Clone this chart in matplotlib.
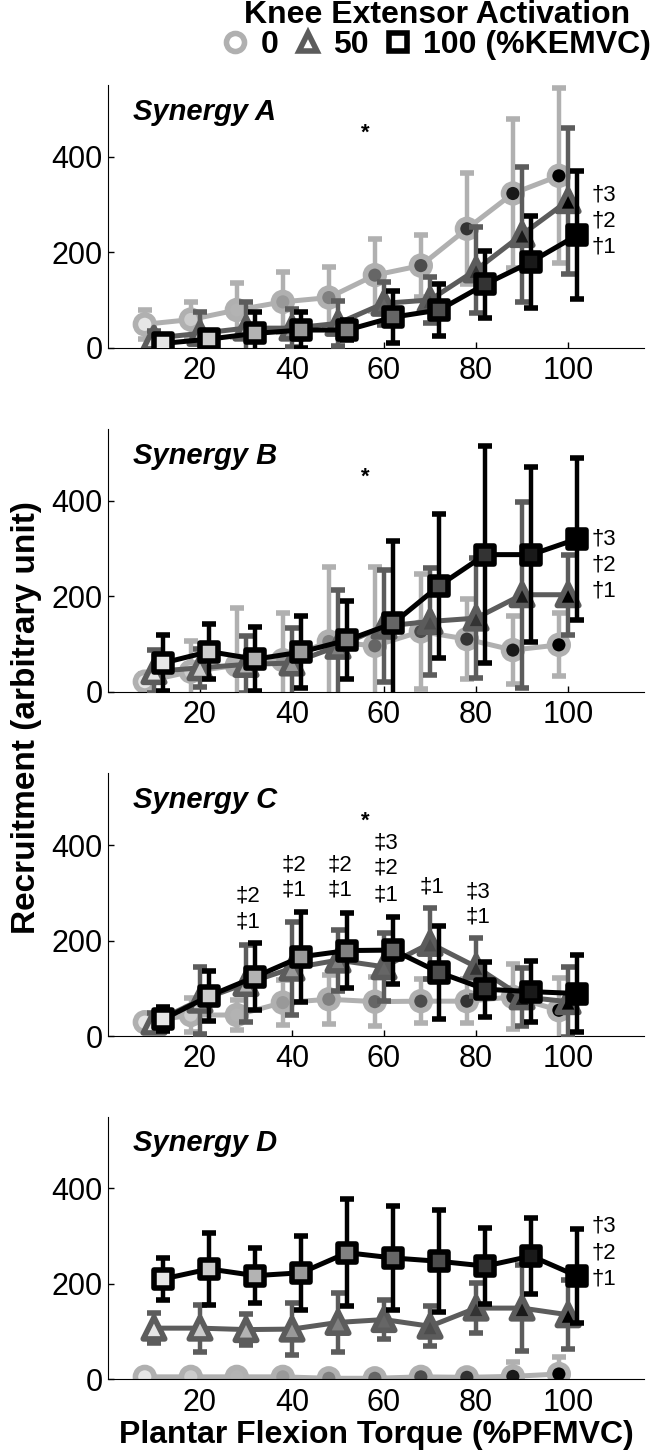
import numpy as np
import matplotlib
matplotlib.use('Agg')
import matplotlib.pyplot as plt
from matplotlib.lines import Line2D

plt.rcParams['font.family'] = ['Liberation Sans', 'DejaVu Sans']

torque = [10, 20, 30, 40, 50, 60, 70, 80, 90, 100]
levels = ['0', '50', '100 (%KEMVC)']

# Synergy A
a_mean_0 = [49, 59, 79, 96, 105, 152, 172, 249, 323, 360]
a_sd_0 = [31, 37, 57, 63, 63, 75, 65, 116, 157, 183]
a_mean_50 = [20, 30, 41, 41, 51, 93, 100, 163, 237, 308]
a_sd_50 = [15, 45, 55, 40, 47, 45, 49, 90, 142, 153]
a_mean_100 = [9, 18, 30, 37, 37, 64, 79, 133, 180, 236]
a_sd_100 = [10, 15, 45, 38, 20, 55, 54, 70, 96, 135]

# Synergy B
b_mean_0 = [21, 42, 55, 66, 105, 96, 126, 110, 87, 98]
b_sd_0 = [15, 65, 120, 98, 157, 166, 121, 84, 72, 66]
b_mean_50 = [42, 50, 57, 60, 95, 137, 147, 154, 203, 203]
b_sd_50 = [45, 40, 59, 73, 118, 117, 112, 125, 195, 84]
b_mean_100 = [60, 84, 68, 83, 108, 143, 222, 287, 287, 320]
b_sd_100 = [59, 58, 67, 76, 81, 172, 151, 227, 184, 170]

# Synergy C
c_mean_0 = [29, 44, 44, 70, 77, 72, 73, 73, 82, 54]
c_sd_0 = [15, 35, 31, 47, 51, 52, 46, 46, 68, 67]
c_mean_50 = [29, 75, 110, 142, 159, 145, 194, 145, 82, 72]
c_sd_50 = [20, 70, 80, 97, 64, 71, 75, 61, 60, 73]
c_mean_100 = [35, 84, 124, 166, 179, 180, 133, 98, 93, 89]
c_sd_100 = [25, 53, 70, 94, 78, 70, 98, 58, 64, 81]

# Synergy D
d_mean_0 = [5, 5, 5, 5, 2, 2, 5, 4, 6, 11]
d_sd_0 = [10, 10, 10, 10, 10, 10, 10, 10, 30, 36]
d_mean_50 = [107, 107, 104, 105, 119, 125, 111, 149, 149, 135]
d_sd_50 = [32, 49, 33, 55, 62, 40, 42, 53, 90, 72]
d_mean_100 = [210, 231, 217, 223, 265, 254, 247, 237, 258, 216]
d_sd_100 = [44, 76, 58, 77, 112, 109, 107, 79, 80, 99]

panels = [
    ('Synergy A', [a_mean_0, a_mean_50, a_mean_100], [a_sd_0, a_sd_50, a_sd_100]),
    ('Synergy B', [b_mean_0, b_mean_50, b_mean_100], [b_sd_0, b_sd_50, b_sd_100]),
    ('Synergy C', [c_mean_0, c_mean_50, c_mean_100], [c_sd_0, c_sd_50, c_sd_100]),
    ('Synergy D', [d_mean_0, d_mean_50, d_mean_100], [d_sd_0, d_sd_50, d_sd_100]),
]

star_panels = [0, 1, 2]
star_x, star_y = 56, 450
dagger_panels = [0, 1, 3]
dagger_labels = ['\u20203', '\u20202', '\u20201']
dagger_y = [320, 265, 210]
ddag_x = [30, 30, 40, 40, 50, 50, 60, 60, 60, 70, 80, 80]
ddag_lab = ['\u20212', '\u20211', '\u20212', '\u20211', '\u20212', '\u20211',
            '\u20213', '\u20212', '\u20211', '\u20211', '\u20213', '\u20211']
ddag_y = [293, 239, 358, 306, 358, 306, 404, 351, 295, 313, 302, 250]

offsets = [-2, 0, 2]
edge_cols = ['#b0b0b0', '#5c5c5c', '#000000']
markers = ['o', '^', 's']
msizes = [13.5, 15.5, 13]
faces = [str(v) for v in np.linspace(0.9, 0.0, 10)]

fig = plt.figure(figsize=(6.54, 14.5), dpi=100)
bottoms = [0.7602, 0.5230, 0.2855, 0.0488]

for i, (title, means, sds) in enumerate(panels):
    ax = fig.add_axes([0.1651, bottoms[i], 0.8196, 0.1811])
    for k in range(3):
        x = np.array(torque) + offsets[k]
        z = 2 + k
        ax.errorbar(x, means[k], yerr=sds[k], color=edge_cols[k], lw=3.6,
                    elinewidth=3.2, capsize=5, capthick=4, zorder=z)
        ax.scatter(x, means[k], s=msizes[k] ** 2, c=faces, marker=markers[k],
                   edgecolors=edge_cols[k], linewidths=4, zorder=z + 0.2)
    ax.set_xlim(0, 116.5)
    ax.set_ylim(0, 550)
    ax.set_xticks([20, 40, 60, 80, 100])
    ax.set_yticks([0, 200, 400])
    ax.tick_params(direction='in', length=4, width=1, labelsize=22)
    ax.tick_params(axis='x', pad=6)
    ax.tick_params(axis='y', pad=4)
    for s in ['top', 'right']:
        ax.spines[s].set_visible(False)
    ax.text(0.047, 0.898, title, transform=ax.transAxes, fontsize=21,
            fontweight='bold', fontstyle='italic', va='center', ha='left')
    if i in star_panels:
        ax.text(star_x, star_y, '*', fontsize=16, fontweight='bold',
                ha='center', va='center')
    if i in dagger_panels:
        for lab, yy in zip(dagger_labels, dagger_y):
            ax.text(105.2, yy, lab, fontsize=16, ha='left', va='center')
    if i == 2:
        for xx, lab, yy in zip(ddag_x, ddag_lab, ddag_y):
            ax.text(xx + 0.5, yy, lab, fontsize=16, ha='center', va='center')
    if i == 3:
        ax.set_xlabel('Plantar Flexion Torque (%PFMVC)', fontsize=23,
                      fontweight='bold', labelpad=2)

fig.text(27 / 654, 0.505, 'Recruitment (arbitrary unit)', rotation=90,
         fontsize=24, fontweight='bold', ha='center', va='center')

handles = [Line2D([], [], ls='none', marker=markers[k], ms=13,
                  mfc='white', mec=edge_cols[k], mew=4) for k in range(3)]
fig.legend(handles, levels, ncol=3, loc='upper center',
           bbox_to_anchor=(0.668, 1.013), frameon=False,
           title='Knee Extensor Activation',
           prop={'size': 23, 'weight': 'bold'},
           title_fontproperties={'size': 23, 'weight': 'bold'},
           handlelength=0.8, handletextpad=0.4, columnspacing=0.5,
           borderpad=0.1, labelspacing=0.0)

fig.savefig('out.png', dpi=100)
